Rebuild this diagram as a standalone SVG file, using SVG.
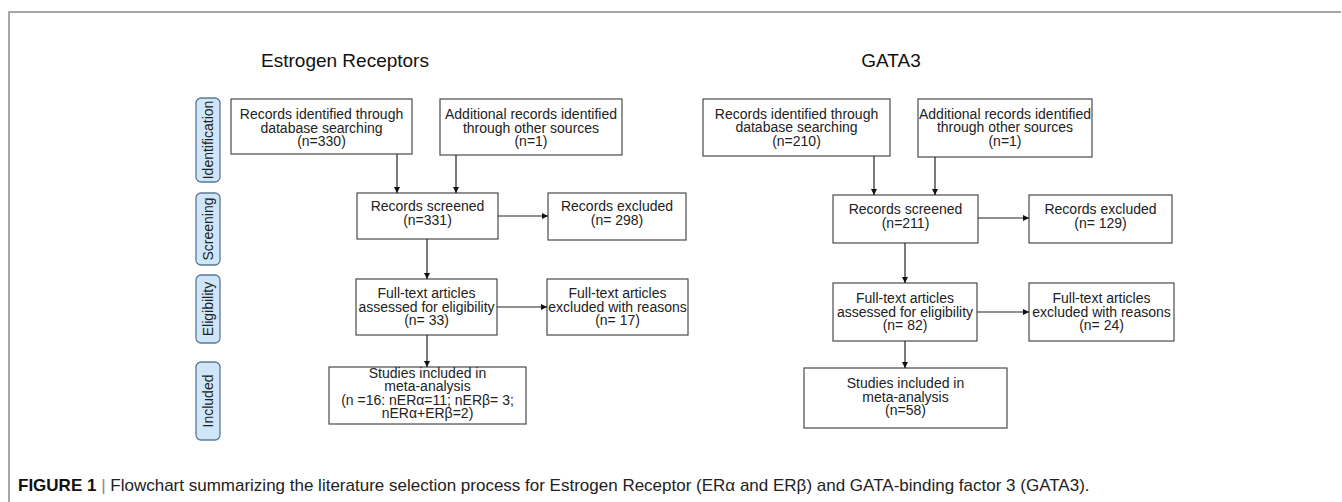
<svg xmlns="http://www.w3.org/2000/svg" width="1342" height="502" viewBox="0 0 1342 502">
<style>
.box{fill:#fff;stroke:#4a4a4a;stroke-width:1.2}
.pill{fill:#cfe6f8;stroke:#5b7896;stroke-width:1.3}
.t{font-family:"Liberation Sans",Arial,sans-serif;font-size:14px;fill:#222;text-anchor:middle}
.title{font-family:"Liberation Sans",Arial,sans-serif;font-size:19px;fill:#111;text-anchor:middle}
.cap{font-family:"Liberation Sans",Arial,sans-serif;font-size:17px;fill:#222}
.c{stroke:#222;stroke-width:1.2;fill:none;marker-end:url(#ah)}
</style>
<defs>
<marker id="ah" viewBox="0 0 8 8" refX="8" refY="4" markerWidth="6" markerHeight="6" markerUnits="userSpaceOnUse" orient="auto">
<path d="M0,0 L8,4 L0,8 z" fill="#111"/>
</marker>
</defs>
<rect width="1342" height="502" fill="#fff"/>
<path d="M9,502 V12 H1341" fill="none" stroke="#8a8a8a" stroke-width="1.5"/>

<text class="title" x="345" y="67">Estrogen Receptors</text>
<text class="title" x="891" y="67">GATA3</text>

<g id="phases">
<g id="ph-identification"><rect class="pill" x="196" y="98" width="24" height="84" rx="5"/><text class="t" transform="translate(213,140) rotate(-90)">Identification</text></g>
<g id="ph-screening"><rect class="pill" x="196" y="193" width="24" height="72" rx="5"/><text class="t" transform="translate(213,229) rotate(-90)">Screening</text></g>
<g id="ph-eligibility"><rect class="pill" x="196" y="275" width="24" height="68" rx="5"/><text class="t" transform="translate(213,309) rotate(-90)">Eligibility</text></g>
<g id="ph-included"><rect class="pill" x="196" y="362" width="24" height="78" rx="5"/><text class="t" transform="translate(213,401) rotate(-90)">Included</text></g>
</g>

<g id="er-db"><rect class="box" x="231" y="99" width="181" height="55"/>
<text class="t" x="321.5" y="119">Records identified through</text><text class="t" x="321.5" y="132.5">database searching</text><text class="t" x="321.5" y="146">(n=330)</text></g>
<g id="er-other"><rect class="box" x="440" y="99" width="182" height="56"/>
<text class="t" x="531" y="119">Additional records identified</text><text class="t" x="531" y="132.5">through other sources</text><text class="t" x="531" y="146">(n=1)</text></g>
<g id="er-screened"><rect class="box" x="357" y="193" width="141" height="46"/>
<text class="t" x="427.5" y="211">Records screened</text><text class="t" x="427.5" y="225">(n=331)</text></g>
<g id="er-excluded"><rect class="box" x="548" y="193" width="138" height="47"/>
<text class="t" x="617" y="211">Records excluded</text><text class="t" x="617" y="225">(n= 298)</text></g>
<g id="er-assessed"><rect class="box" x="356" y="279" width="141" height="56"/>
<text class="t" x="426.5" y="298">Full-text articles</text><text class="t" x="426.5" y="311.5">assessed for eligibility</text><text class="t" x="426.5" y="325">(n= 33)</text></g>
<g id="er-ftexcluded"><rect class="box" x="547" y="279" width="141" height="56"/>
<text class="t" x="617.5" y="298">Full-text articles</text><text class="t" x="617.5" y="311.5">excluded with reasons</text><text class="t" x="617.5" y="325">(n= 17)</text></g>
<g id="er-included"><rect class="box" x="329" y="367" width="197" height="57"/>
<text class="t" x="427.5" y="377.5">Studies included in</text><text class="t" x="427.5" y="391">meta-analysis</text><text class="t" x="427.5" y="404.5">(n =16: nERα=11; nERβ= 3;</text><text class="t" x="427.5" y="418">nERα+ERβ=2)</text></g>

<g id="ga-db"><rect class="box" x="703" y="99" width="187" height="57"/>
<text class="t" x="796.5" y="118.5">Records identified through</text><text class="t" x="796.5" y="132">database searching</text><text class="t" x="796.5" y="145.5">(n=210)</text></g>
<g id="ga-other"><rect class="box" x="918" y="99" width="174" height="58"/>
<text class="t" x="1005" y="118.5">Additional records identified</text><text class="t" x="1005" y="132">through other sources</text><text class="t" x="1005" y="145.5">(n=1)</text></g>
<g id="ga-screened"><rect class="box" x="833" y="195" width="145" height="48"/>
<text class="t" x="905.5" y="214">Records screened</text><text class="t" x="905.5" y="228">(n=211)</text></g>
<g id="ga-excluded"><rect class="box" x="1029" y="195" width="143" height="48"/>
<text class="t" x="1100.5" y="214">Records excluded</text><text class="t" x="1100.5" y="228">(n= 129)</text></g>
<g id="ga-assessed"><rect class="box" x="833" y="283" width="144" height="58"/>
<text class="t" x="905" y="303">Full-text articles</text><text class="t" x="905" y="316.5">assessed for eligibility</text><text class="t" x="905" y="330">(n= 82)</text></g>
<g id="ga-ftexcluded"><rect class="box" x="1029" y="283" width="145" height="58"/>
<text class="t" x="1101.5" y="303">Full-text articles</text><text class="t" x="1101.5" y="316.5">excluded with reasons</text><text class="t" x="1101.5" y="330">(n= 24)</text></g>
<g id="ga-included"><rect class="box" x="804" y="368" width="203" height="60"/>
<text class="t" x="905.5" y="388">Studies included in</text><text class="t" x="905.5" y="401.5">meta-analysis</text><text class="t" x="905.5" y="415">(n=58)</text></g>

<g id="connectors">
<path class="c" d="M397,154 V193"/>
<path class="c" d="M456,155 V193"/>
<path class="c" d="M498,216 H548"/>
<path class="c" d="M427,239 V279"/>
<path class="c" d="M497,307 H547"/>
<path class="c" d="M427,335 V367"/>
<path class="c" d="M874,156 V195"/>
<path class="c" d="M935,157 V195"/>
<path class="c" d="M978,218 H1029"/>
<path class="c" d="M905,243 V283"/>
<path class="c" d="M977,312 H1029"/>
<path class="c" d="M905,341 V368"/>
</g>

<g id="caption">
<text class="cap" x="18" y="491"><tspan font-weight="bold" fill="#111">FIGURE 1</tspan><tspan fill="#888"> | </tspan><tspan>Flowchart summarizing the literature selection process for Estrogen Receptor (ERα and ERβ) and GATA-binding factor 3 (GATA3).</tspan></text>
</g>
</svg>
